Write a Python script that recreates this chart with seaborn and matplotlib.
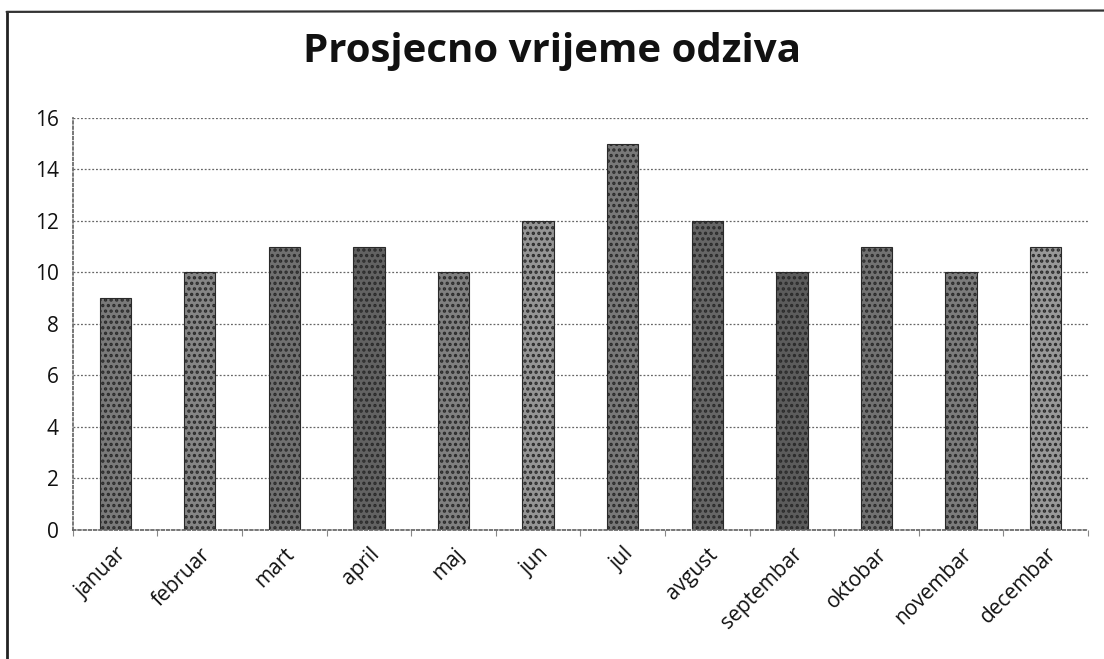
import matplotlib
matplotlib.use("Agg")
import matplotlib.pyplot as plt
import seaborn as sns
import pandas as pd
import numpy as np
from matplotlib.lines import Line2D
from matplotlib.ticker import FixedLocator

months = ["januar", "februar", "mart", "april", "maj", "jun", "jul",
          "avgust", "septembar", "oktobar", "novembar", "decembar"]
values = [9, 10, 11, 11, 10, 12, 15, 12, 10, 11, 10, 11]
title = "Prosjecno vrijeme odziva"
yticks = [0, 2, 4, 6, 8, 10, 12, 14, 16]

bar_greys = ["#7a7a7a", "#858585", "#707070", "#626262", "#808080", "#959595",
             "#787878", "#666666", "#5c5c5c", "#727272", "#7c7c7c", "#989898"]

sns.set_theme(style="white")
plt.rcParams["font.family"] = ["Open Sans", "DejaVu Sans"]
plt.rcParams["hatch.color"] = "#111111"
plt.rcParams["hatch.linewidth"] = 1.6

df = pd.DataFrame({"month": months, "value": values})

fig = plt.figure(figsize=(11.04, 6.59), dpi=100)
ax = fig.add_axes([0.066, 0.196, 0.9195, 0.625])

sns.barplot(data=df, x="month", y="value", hue="month", palette=bar_greys,
            width=0.37, legend=False, ax=ax, edgecolor="#2a2a2a", linewidth=0.8,
            saturation=1)
for p in ax.patches:
    p.set_hatch("...")

ax.set_ylim(0, 16)
ax.set_yticks(yticks)
ax.set_yticklabels([str(t) for t in yticks], fontsize=15, color="#111111")
ax.set_xlim(-0.5, len(months) - 0.5)
ax.set_xticks(range(len(months)))
ax.set_xticklabels(months, rotation=45, ha="right", rotation_mode="anchor",
                   fontsize=15, color="#111111")
ax.xaxis.set_minor_locator(FixedLocator(np.arange(-0.5, len(months), 1.0)))
ax.tick_params(axis="x", which="major", length=0, pad=10)
ax.tick_params(axis="x", which="minor", length=4, color="#888888", width=0.8, bottom=True)
ax.tick_params(axis="y", length=0, pad=10)
ax.set_xlabel("")
ax.set_ylabel("")

ax.yaxis.grid(True, linestyle=(0, (1.5, 1.5)), color="#666666", linewidth=0.9)
ax.set_axisbelow(True)
for s in ["top", "right"]:
    ax.spines[s].set_visible(False)
ax.spines["left"].set_linestyle((0, (1.5, 1.5)))
ax.spines["left"].set_color("#666666")
ax.spines["bottom"].set_linestyle((0, (1.5, 1.5)))
ax.spines["bottom"].set_color("#666666")

fig.text(0.5, 0.922, title, ha="center", va="center", fontsize=29,
         fontweight="bold", color="#111111")

fig.add_artist(Line2D([0.006, 0.006], [0.0, 0.982], transform=fig.transFigure,
                      color="#222222", linewidth=2))
fig.add_artist(Line2D([0.006, 1.0], [0.982, 0.984], transform=fig.transFigure,
                      color="#333333", linewidth=1.6))

fig.savefig("out.png", dpi=100)
